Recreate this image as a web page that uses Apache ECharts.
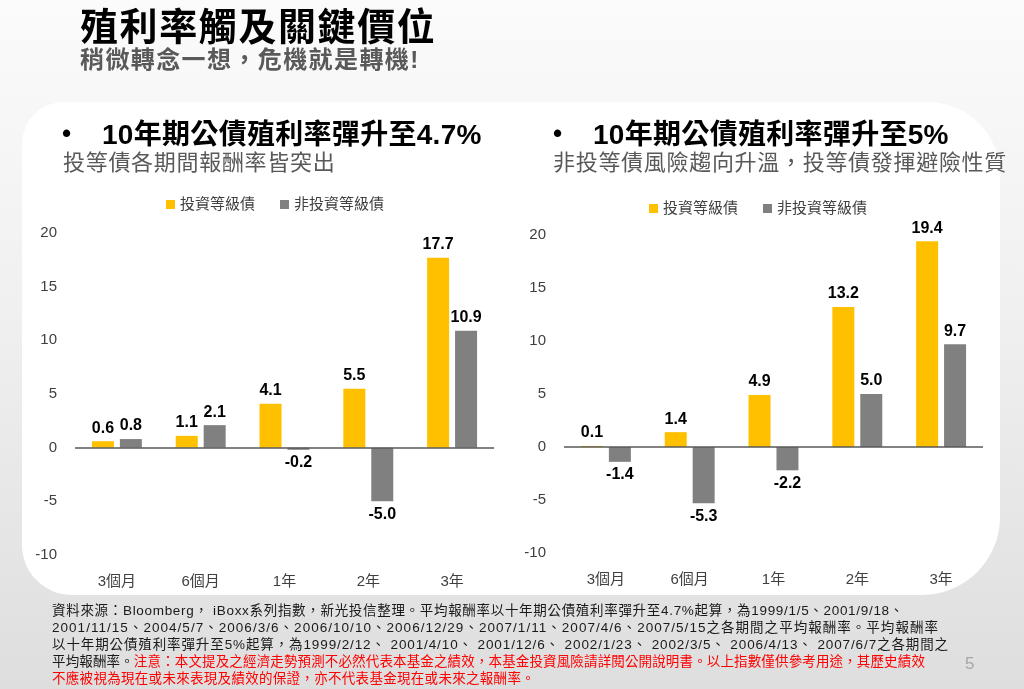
<!DOCTYPE html>
<html>
<head>
<meta charset="utf-8">
<script src="https://cdn.jsdelivr.net/npm/echarts@6/dist/echarts.min.js"></script>
<style>
  html, body { margin:0; padding:0; }
  body { width:1024px; height:689px; position:relative; overflow:hidden;
    background: linear-gradient(to bottom, #fbfbfb 0%, #f0f0f0 45%, #dedede 100%);
    font-family: "Liberation Sans", "Noto Sans CJK TC", sans-serif; }
  #panel { position:absolute; left:22px; top:102px; width:978px; height:493px; background:#fff;
    border-radius: 42px 72px 78px 50px; }
  #chart { position:absolute; left:0; top:0; width:1024px; height:689px; }
  .t { position:absolute; white-space:nowrap; line-height:1; }
  #mainTitle { left:80px; top:8px; font-size:38px; font-weight:bold; color:#000; letter-spacing:1.6px; }
  #mainSub { left:80px; top:48px; font-size:24px; font-weight:bold; color:#595959; letter-spacing:1.4px; }
  .bullet { font-size:26px; font-weight:bold; color:#000; }
  .ct { font-size:28px; font-weight:bold; color:#000; letter-spacing:0.3px; }
  .cs { font-size:22px; color:#595959; letter-spacing:0.7px; }
  #footer { position:absolute; left:52px; top:602px; font-size:13.5px; line-height:17px; color:#1a1a1a; }
  #footer div { white-space:nowrap; width:max-content; }
  #footer .red { color:#ff0000; }
  #pageNum { left:965px; top:655px; font-size:17px; color:#a6a6a6; }
</style>
</head>
<body>
<div id="panel"></div>
<div id="chart"></div>
<div class="t" id="mainTitle">殖利率觸及關鍵價位</div>
<div class="t" id="mainSub">稍微轉念一想，危機就是轉機!</div>
<div class="t bullet" style="left:62px;top:120px;">•</div>
<div class="t ct" style="left:102px;top:121px;">10年期公債殖利率彈升至4.7%</div>
<div class="t cs" style="left:63px;top:152px;">投等債各期間報酬率皆突出</div>
<div class="t bullet" style="left:553px;top:120px;">•</div>
<div class="t ct" style="left:593px;top:121px;">10年期公債殖利率彈升至5%</div>
<div class="t cs" style="left:553px;top:152px;">非投等債風險趨向升溫，投等債發揮避險性質</div>
<div id="footer">
  <div data-end="904">資料來源：Bloomberg， iBoxx系列指數，新光投信整理。平均報酬率以十年期公債殖利率彈升至4.7%起算，為1999/1/5、2001/9/18、</div>
  <div data-end="939">2001/11/15、2004/5/7、2006/3/6、2006/10/10、2006/12/29、2007/1/11、2007/4/6、2007/5/15之各期間之平均報酬率。平均報酬率</div>
  <div data-end="949">以十年期公債殖利率彈升至5%起算，為1999/2/12、 2001/4/10、 2001/12/6、 2002/1/23、 2002/3/5、 2006/4/13、 2007/6/7之各期間之</div>
  <div data-end="925">平均報酬率。<span class="red">注意：本文提及之經濟走勢預測不必然代表本基金之績效，本基金投資風險請詳閱公開說明書。以上指數僅供參考用途，其歷史績效</span></div>
  <div data-end="535" class="red">不應被視為現在或未來表現及績效的保證，亦不代表基金現在或未來之報酬率。</div>
</div>
<div class="t" id="pageNum">5</div>
<script>
// ---- data ----
const categories = ['3個月', '6個月', '1年', '2年', '3年'];
const seriesNames = ['投資等級債', '非投資等級債'];
const left_invest = [0.6, 1.1, 4.1, 5.5, 17.7];
const left_highYield = [0.8, 2.1, -0.2, -5.0, 10.9];
const right_invest = [0.1, 1.4, 4.9, 13.2, 19.4];
const right_highYield = [-1.4, -5.3, -2.2, 5.0, 9.7];
const yTicks = { min: -10, max: 20, interval: 5 };

// fit footer lines
document.querySelectorAll('#footer > div').forEach(function (d) {
  const target = parseFloat(d.getAttribute('data-end')) - 52;
  const w = d.getBoundingClientRect().width;
  const n = d.textContent.length;
  const ls = Math.max(-0.5, Math.min(2, (target - w) / n));
  d.style.letterSpacing = ls.toFixed(3) + 'px';
});

const YELLOW = '#FFC000', GRAY = '#808080';
const FONT = '"Liberation Sans", "Noto Sans CJK TC", sans-serif';

function toData(arr) {
  return arr.map(function (v) {
    return { value: v, label: { position: v < 0 ? 'bottom' : 'top' } };
  });
}
function barSeries(name, arr, idx, color, withZero) {
  const s = {
    name: name, type: 'bar', xAxisIndex: idx, yAxisIndex: idx,
    data: toData(arr), barWidth: 22, barGap: '27%',
    itemStyle: { color: color },
    label: { show: true, distance: 5, color: '#000', fontWeight: 'bold', fontSize: 16, fontFamily: FONT,
      formatter: function (p) { return Number(p.value).toFixed(1); } }
  };
  if (withZero) {
    s.markLine = { silent: true, symbol: 'none', label: { show: false },
      lineStyle: { color: '#595959', width: 1.5, type: 'solid' }, data: [{ yAxis: 0 }], animation: false };
  }
  return s;
}
function xAx(idx) {
  return { type: 'category', gridIndex: idx, data: categories,
    axisLine: { show: false, onZero: false }, axisTick: { show: false },
    axisLabel: { color: '#404040', fontSize: 15, fontFamily: FONT, margin: 19 } };
}
function yAx(idx) {
  return { type: 'value', gridIndex: idx, min: yTicks.min, max: yTicks.max, interval: yTicks.interval,
    axisLine: { show: false }, axisTick: { show: false }, splitLine: { show: false },
    axisLabel: { color: '#404040', fontSize: 15, fontFamily: FONT, margin: 18 } };
}
const chart = echarts.init(document.getElementById('chart'), null, { renderer: 'canvas' });
chart.setOption({
  animation: false,
  backgroundColor: 'transparent',
  legend: [
    { left: 161, top: 192, itemWidth: 9, itemHeight: 9, icon: 'rect', itemGap: 25,
      textStyle: { fontSize: 15, color: '#404040', fontFamily: FONT }, data: seriesNames },
    { left: 644, top: 196, itemWidth: 9, itemHeight: 9, icon: 'rect', itemGap: 25,
      textStyle: { fontSize: 15, color: '#404040', fontFamily: FONT }, data: seriesNames }
  ],
  grid: [
    { left: 75, top: 233, width: 419, height: 322 },
    { left: 564, top: 235, width: 419, height: 318 }
  ],
  xAxis: [xAx(0), xAx(1)],
  yAxis: [yAx(0), yAx(1)],
  series: [
    barSeries(seriesNames[0], left_invest, 0, YELLOW, true),
    barSeries(seriesNames[1], left_highYield, 0, GRAY, false),
    barSeries(seriesNames[0], right_invest, 1, YELLOW, true),
    barSeries(seriesNames[1], right_highYield, 1, GRAY, false)
  ]
});
</script>
</body>
</html>
